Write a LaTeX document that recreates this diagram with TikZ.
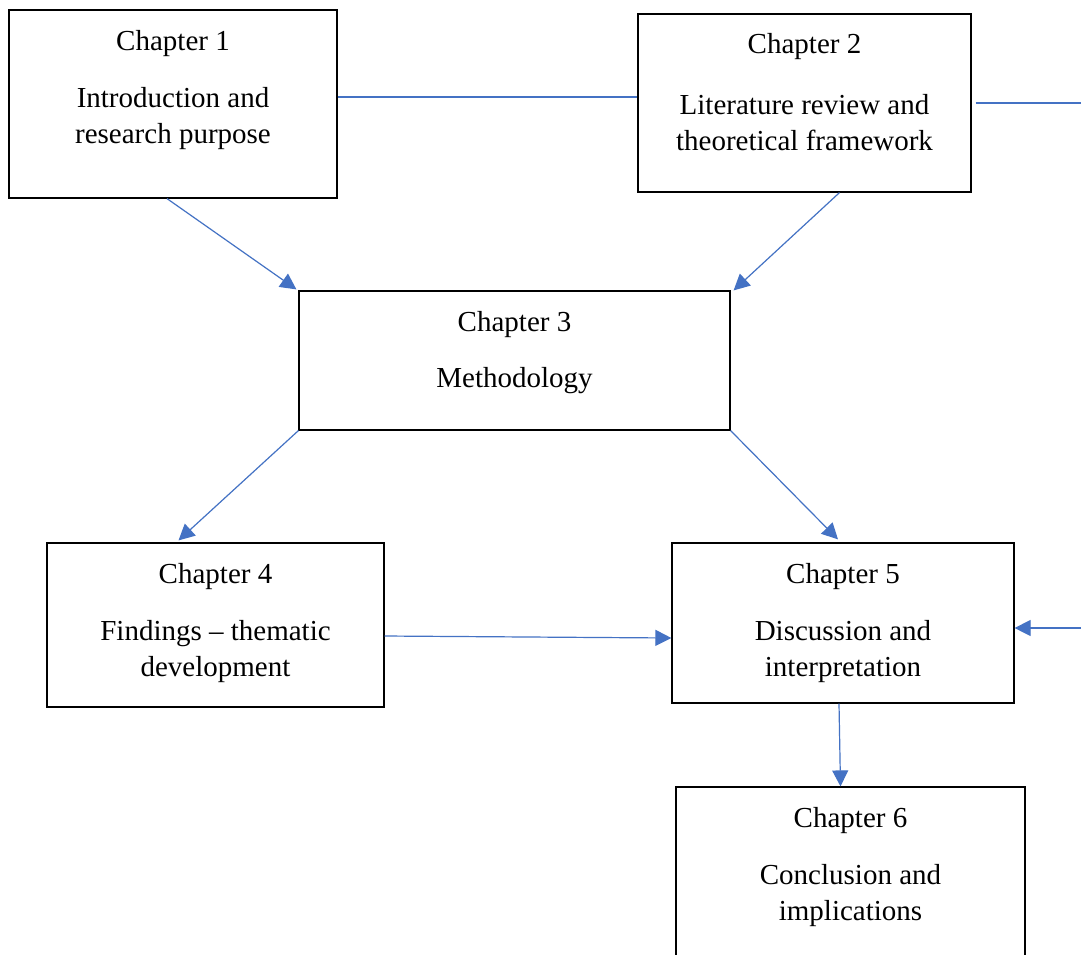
\documentclass[tikz,border=0pt]{standalone}
\usepackage{fontspec}
\setmainfont{Liberation Serif}
\usetikzlibrary{arrows.meta,calc}
\definecolor{linkblue}{HTML}{4472C4}

\begin{document}
\begin{tikzpicture}[x=1pt,y=-1pt,
  chapbox/.style={draw=black, line width=1.2pt, inner sep=0pt},
  chaptitle/.style={inner sep=0pt, font=\fontsize{29}{36}\selectfont},
  chapbody/.style={inner sep=0pt, align=center, font=\fontsize{29}{36}\selectfont},
  link/.style={draw=linkblue, line width=1.2pt},
  flow/.style={link, -{Triangle[length=16pt,width=16pt]}}]

\clip (0,0) rectangle (1081,954);
\fill[white] (0,0) rectangle (1081,954);

% chapter boxes
\node[chapbox, minimum width=328pt, minimum height=188pt] (b1) at (173,104) {};
\node[chapbox, minimum width=333pt, minimum height=178pt] (b2) at (804.5,103) {};
\node[chapbox, minimum width=431pt, minimum height=139pt] (b3) at (514.5,360.5) {};
\node[chapbox, minimum width=337pt, minimum height=164pt] (b4) at (215.5,625) {};
\node[chapbox, minimum width=342pt, minimum height=160pt] (b5) at (843,623) {};
\node[chapbox, minimum width=349pt, minimum height=190pt] (b6) at (850.5,882) {};

% box texts
\node[chaptitle] (t1) at ($(b1.north)+(0,34)$) {Chapter 1};
\node[chapbody]  (d1) at ($(b1.north)+(0,109)$) {Introduction and\\research purpose};
\node[chaptitle] (t2) at ($(b2.north)+(0,33)$) {Chapter 2};
\node[chapbody]  (d2) at ($(b2.north)+(0,109)$) {Literature review and\\theoretical framework};
\node[chaptitle] (t3) at ($(b3.north)+(0,34)$) {Chapter 3};
\node[chapbody]  (d3) at ($(b3.north)+(0,90)$) {Methodology};
\node[chaptitle] (t4) at ($(b4.north)+(0,34)$) {Chapter 4};
\node[chapbody]  (d4) at ($(b4.north)+(0,109)$) {Findings -- thematic\\development};
\node[chaptitle] (t5) at ($(b5.north)+(0,34)$) {Chapter 5};
\node[chapbody]  (d5) at ($(b5.north)+(0,109)$) {Discussion and\\interpretation};
\node[chaptitle] (t6) at ($(b6.north)+(0,34)$) {Chapter 6};
\node[chapbody]  (d6) at ($(b6.north)+(0,109)$) {Conclusion and\\implications};

% free ends at the right edge
\coordinate (outA) at (1081,103);
\coordinate (outB) at (1081,628);

% connectors
\draw[link] (b1.east |- 0,97) -- (b2.west |- 0,97);
\draw[link] ($(b2.east |- 0,103)+(4,0)$) -- (outA);
\draw[flow] (outB) -- (b5.east |- outB);
\draw[flow] ($(b1.south)+(-6,0)$) -- ($(b3.north west)+(-2,-1)$);
\draw[flow] ($(b2.south)+(35,0)$) -- ($(b3.north east)+(3,0)$);
\draw[flow] (b3.south west) -- ($(b4.north)+(-37,-2)$);
\draw[flow] (b3.south east) -- ($(b5.north)+(-5,-3)$);
\draw[flow] (b4.east |- 0,636) -- (b5.west |- 0,638);
\draw[flow] ($(b5.south)+(-4,0)$) -- ($(b6.north)+(-10,0)$);
\end{tikzpicture}
\end{document}
